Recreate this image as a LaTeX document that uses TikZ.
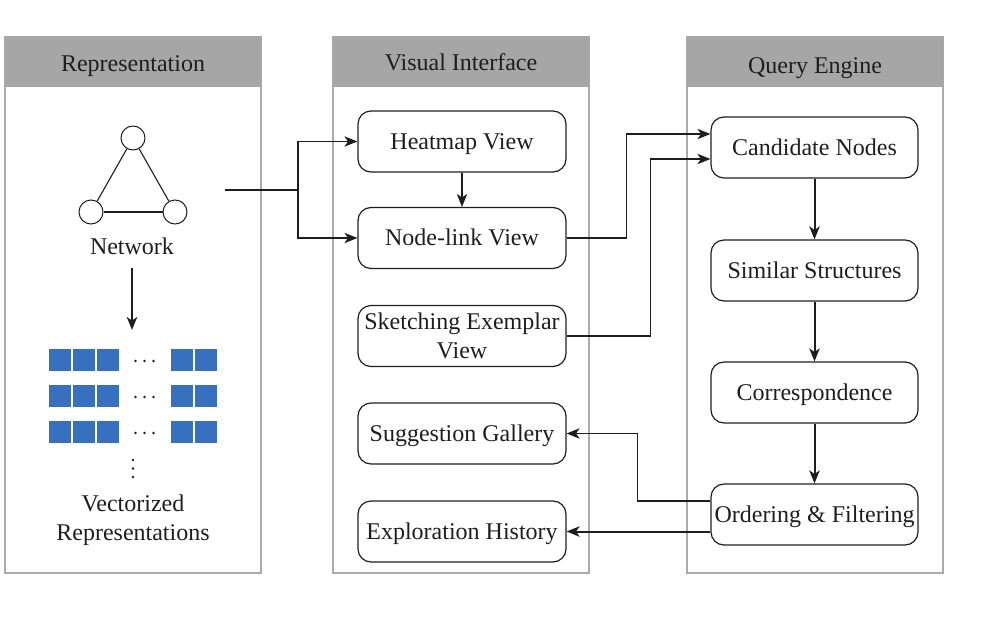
\documentclass[tikz,border=0pt]{standalone}
\usepackage{fontspec}
\setmainfont{Liberation Serif}
\usetikzlibrary{arrows.meta,calc}
\definecolor{hdr}{RGB}{166,166,166}
\definecolor{pborder}{RGB}{170,170,170}
\definecolor{vblue}{RGB}{56,112,192}
\definecolor{ink}{RGB}{30,30,30}
\begin{document}
\begin{tikzpicture}[x=0.5pt,y=-0.5pt,
  font=\fontsize{12}{14.5}\selectfont, text=ink,
  box/.style={draw=ink, line width=0.6pt, rounded corners=6.5pt, minimum width=104pt, minimum height=30.5pt, align=center, inner sep=1pt, text height=0.98em, text depth=0.2em},
  mbox/.style={draw=ink, line width=0.6pt, rounded corners=6.5pt, minimum width=104pt, minimum height=30.5pt, align=center, inner sep=1pt},
  qbox/.style={box, minimum width=103.5pt},
  hdrbox/.style={fill=hdr, minimum width=128pt, minimum height=25pt, inner sep=0pt},
  hdrtext/.style={inner sep=0pt, text height=0.7em, text depth=0.2em},
  panel/.style={draw=pborder, line width=0.8pt},
  arr/.style={draw=ink, -{Stealth[length=6.5pt,width=5.2pt,inset=1.8pt]}, line width=0.6pt},
  tarr/.style={draw=ink, -{Stealth[length=6.5pt,width=5.2pt,inset=1.8pt]}, line width=1pt},
  netnode/.style={circle, draw=ink, line width=0.5pt, minimum size=12pt, inner sep=0pt},
  sq/.style={fill=vblue},
  dotmark/.style={fill=ink}
]
\useasboundingbox (0,0) rectangle (994,621);

% panels
\draw[panel] (5,37) rectangle (261,573);
\draw[panel] (333,37) rectangle (589,573);
\draw[panel] (687,37) rectangle (943,573);
\node[hdrbox] (h1) at (133,62) {};
\node[hdrbox] (h2) at (461,62) {};
\node[hdrbox] (h3) at (815,62) {};
\node[hdrtext] (h1t) at (133,66) {Representation};
\node[hdrtext] (h2t) at (461,65) {Visual Interface};
\node[hdrtext] (h3t) at (815,68) {Query Engine};

% network
\node[netnode] (c1) at (133,138) {};
\node[netnode] (c2) at (91,212) {};
\node[netnode] (c3) at (175,212) {};
\draw[ink, line width=0.55pt] (c1) -- (c2);
\draw[ink, line width=0.55pt] (c2) -- (c3);
\draw[ink, line width=0.55pt] (c3) -- (c1);
\node[hdrtext] (net) at (132,249) {Network};
\coordinate (nbot) at (132,268);
\coordinate (gtop) at (132,330);
\draw[tarr] (nbot) -- (gtop);

% vector grid
\foreach \yy in {349,385,421}{
  \foreach \xx in {49,73,97,171,195}{
    \fill[sq] (\xx,\yy) rectangle ++(22,22);
  }
  \foreach \dx in {135.5,144.5,153.5}{
    \fill[dotmark] (\dx,\yy+12) circle (0.7pt);
  }
}
\foreach \dy in {460,468.5,477}{
  \fill[dotmark] (133,\dy) circle (0.7pt);
}
\node[align=center] (vec) at (133,520) {Vectorized\\Representations};

% visual interface
\node[box] (heat) at (462,141.5) {Heatmap View};
\node[box] (nl) at (462,238) {Node-link View};
\node[mbox] (sk) at (462,336) {Sketching Exemplar\\View};
\node[box] (sug) at (462,433.5) {Suggestion Gallery};
\node[box] (exp) at (462,531.5) {Exploration History};

% query engine
\node[qbox] (cand) at (814.5,147.5) {Candidate Nodes};
\node[qbox] (sim) at (814.5,270.5) {Similar Structures};
\node[qbox] (corr) at (814.5,392.5) {Correspondence};
\node[qbox] (ord) at (814.5,514.5) {Ordering \& Filtering};

% network to views
\coordinate (ns) at (225,190);
\coordinate (nj) at (298,190);
\draw[ink, line width=1pt] (ns) -- (nj);
\draw[arr] (nj) |- (heat.west);
\draw[arr] (nj) |- (nl.west);
\draw[arr] (heat) -- (nl);

% views to candidate
\draw[arr] (nl.east) -- ++(60,0) |- ([yshift=6.75pt]cand.west);
\draw[arr] (sk.east) -- ++(84,0) |- ([yshift=-5.75pt]cand.west);

% query chain
\draw[tarr] (cand) -- (sim);
\draw[tarr] (sim) -- (corr);
\draw[tarr] (corr) -- (ord);

% back to views
\draw[arr] ([yshift=6.75pt]ord.west) -- ++(-73,0) |- (sug.east);
\draw[tarr] (ord.west |- exp.east) -- (exp.east);
\end{tikzpicture}
\end{document}
